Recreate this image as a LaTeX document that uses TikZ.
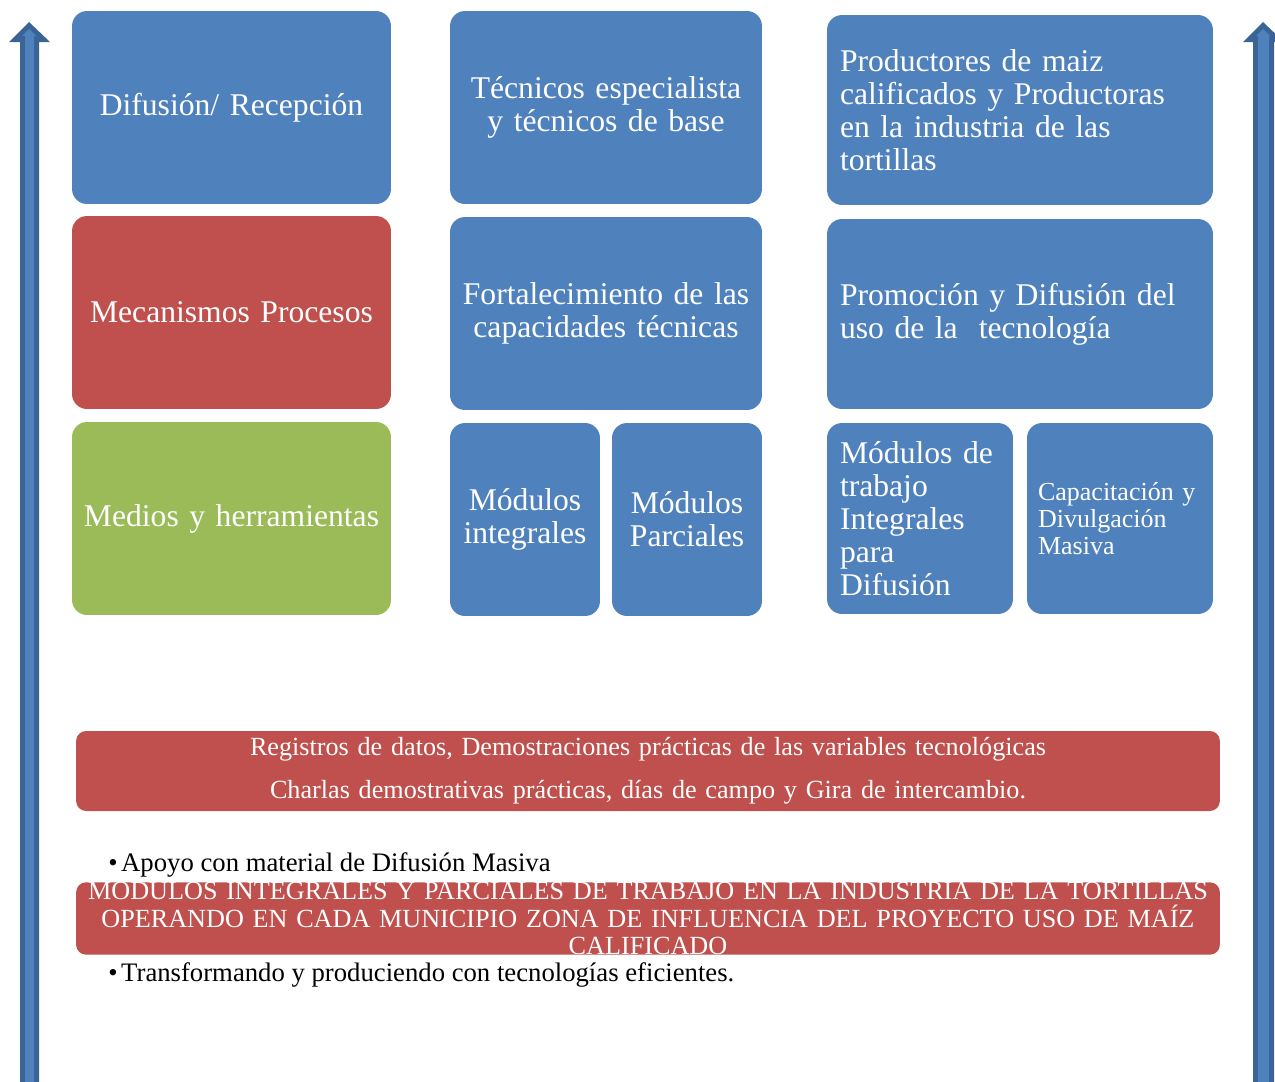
\documentclass[tikz,border=0pt]{standalone}
\usepackage{fontspec}
\setmainfont{Liberation Serif}
\definecolor{boxblue}{HTML}{4F81BD}
\definecolor{boxred}{HTML}{C0504D}
\definecolor{boxgreen}{HTML}{9BBB59}
\definecolor{arrowdark}{HTML}{3A6396}

\begin{document}
\begin{tikzpicture}[x=0.02cm,y=-0.02cm,
  box/.style={fill=boxblue, rounded corners=0.3cm, text=white, inner xsep=0.1cm,
    minimum height=3.86cm, align=center, font=\fontsize{18}{18.7}\selectfont},
  leftbox/.style={box, inner xsep=0.26cm, align=left},
  band/.style={fill=boxred, rounded corners=0.2cm, text=white, inner xsep=0.1cm,
    align=center, text width=22.68cm},
  bullet/.style={anchor=west, inner sep=0pt, font=\fontsize{15.2}{16}\selectfont}]
  \useasboundingbox (0,0) rectangle (1275,1082);

  % side arrows
  \fill[arrowdark] (20,1082) -- (20,42) -- (9,42) -- (29,22) -- (50,42) -- (39,42) -- (39,1082) -- cycle;
  \fill[boxblue] (25,1082) -- (25,36) -- (22,36) -- (29,29) -- (36.5,36) -- (34,36) -- (34,1082) -- cycle;
  \fill[arrowdark] (1253,1082) -- (1253,42) -- (1243,42) -- (1263,22) -- (1284,42) -- (1274,42) -- (1274,1082) -- cycle;
  \fill[boxblue] (1258,1082) -- (1258,36) -- (1256,36) -- (1263,29) -- (1270,36) -- (1269,36) -- (1269,1082) -- cycle;

  % first column
  \node[box, text width=6.18cm] (difusion) at (231.5,107.5) {Difusión/ Recepción};
  \node[box, fill=boxred, text width=6.18cm] (mecanismos) at (231.5,312.5) {Mecanismos Procesos};
  \node[box, fill=boxgreen, text width=6.18cm] (medios) at (231.5,518.5) {Medios y herramientas};

  % second column
  \node[box, text width=6.04cm] (tecnicos) at (606,107.5) {Técnicos especialista\\ y técnicos de base};
  \node[box, text width=6.04cm] (fortalecimiento) at (606,313.5) {Fortalecimiento de las\\ capacidades técnicas};
  \node[box, text width=2.8cm] (integrales) at (525,519.5) {Módulos\\ integrales};
  \node[box, text width=2.8cm] (parciales) at (687,519.5) {Módulos\\ Parciales};

  % third column
  \node[leftbox, text width=7.2cm, minimum height=3.8cm] (productores) at (1020,110)
    {Productores de maiz\\ calificados y Productoras\\ en la industria de las\\ tortillas};
  \node[leftbox, text width=7.2cm, minimum height=3.8cm] (promocion) at (1020,314)
    {Promoción y Difusión del\\ uso de la\ \ tecnología};
  \node[leftbox, text width=3.2cm, minimum height=3.82cm] (trabajo) at (920,518.5)
    {Módulos de\\ trabajo\\ Integrales\\ para\\ Difusión};
  \node[leftbox, text width=3.28cm, minimum height=3.82cm, inner xsep=0.22cm,
    font=\fontsize{14.8}{15.6}\selectfont] (capacitacion) at (1120,518.5)
    {Capacitación y\\ Divulgación\\ Masiva};

  % bottom bands
  \node[band, minimum height=1.6cm, font=\fontsize{14.9}{24.4}\selectfont] (registros) at (648,771)
    {Registros de datos, Demostraciones prácticas de las variables tecnológicas\\
     Charlas demostrativas prácticas, días de campo y Gira de intercambio.};
  \node[band, minimum height=1.34cm, inner ysep=0pt, font=\fontsize{14.9}{15.6}\selectfont] (modulos) at (648,918.5)
    {MODULOS INTEGRALES Y PARCIALES DE TRABAJO EN LA INDUSTRIA DE LA TORTILLAS\\
     OPERANDO EN CADA MUNICIPIO ZONA DE INFLUENCIA DEL PROYECTO USO DE MAÍZ\\
     CALIFICADO};
  \node[bullet] (apoyo) at (108,865) {\textbullet\hspace{2pt}Apoyo con material de Difusión Masiva};
  \node[bullet] (transformando) at (108,975) {\textbullet\hspace{2pt}Transformando y produciendo con tecnologías eficientes.};
\end{tikzpicture}
\end{document}
